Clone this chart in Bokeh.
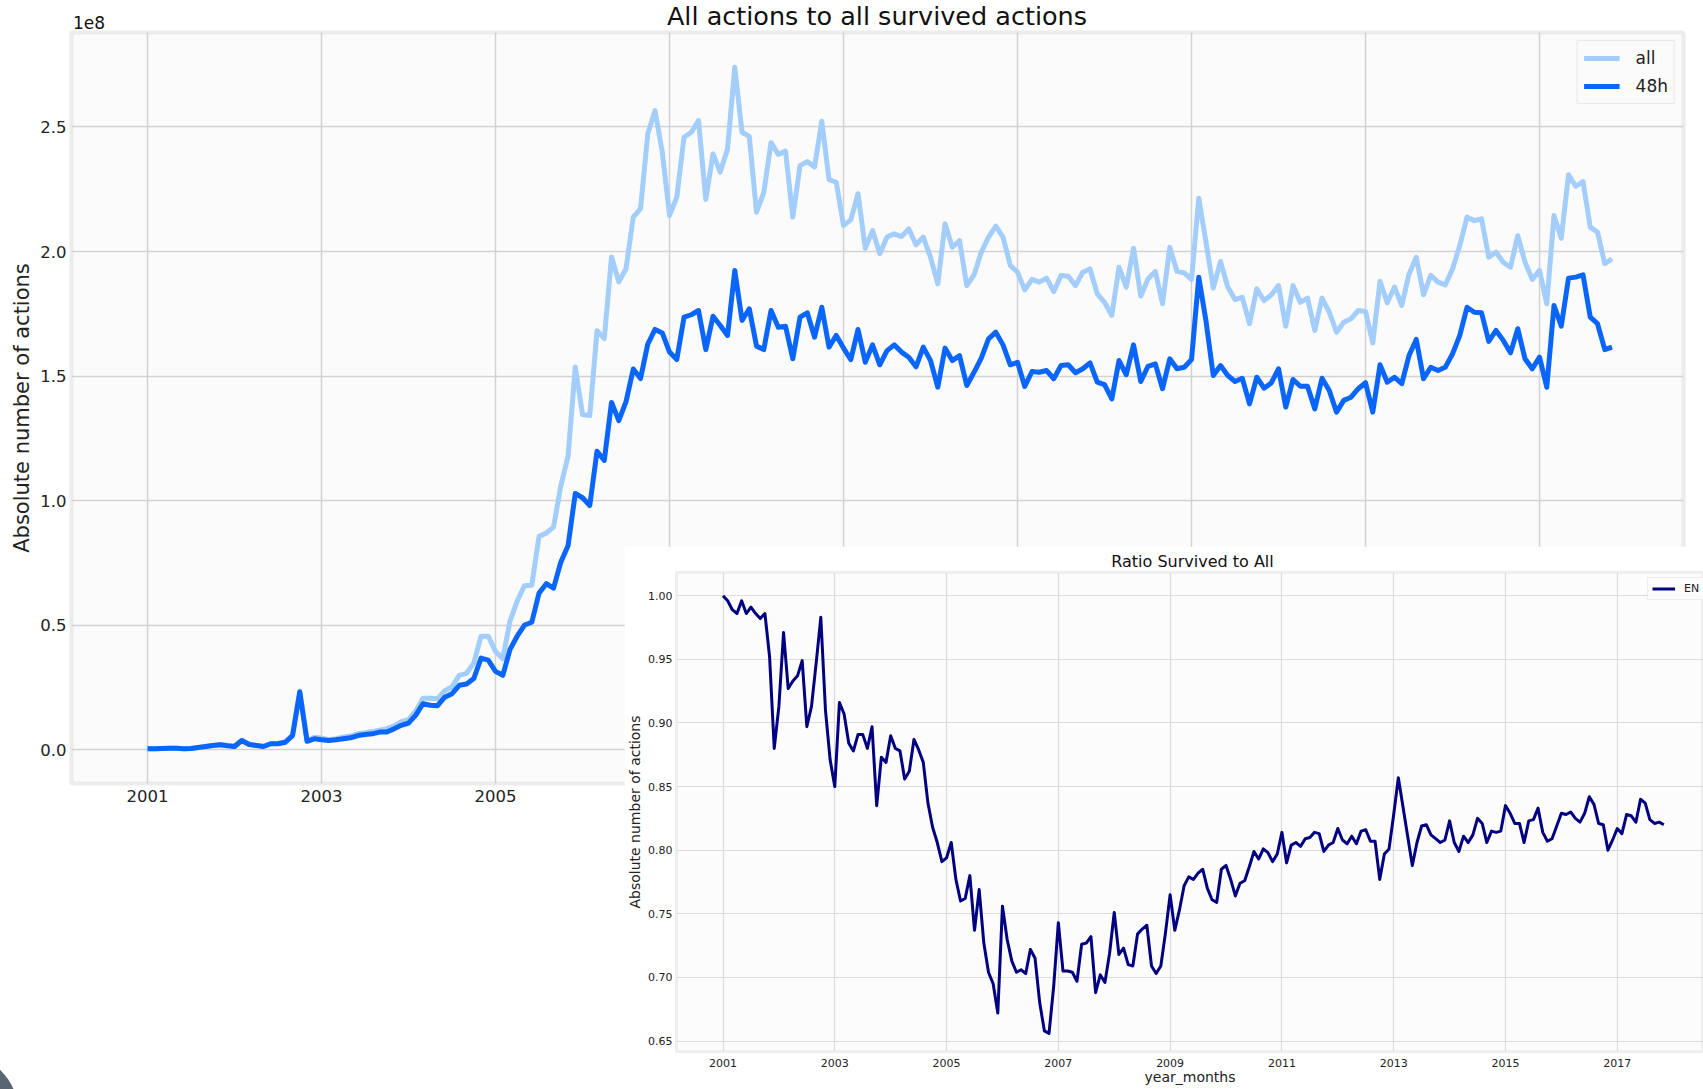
from bokeh.plotting import figure
from bokeh.models import (FixedTicker, NumeralTickFormatter, Legend,
                          LegendItem, Range1d, GridBox, Div)
from bokeh.embed import file_html
from bokeh.resources import INLINE

FONT = "DejaVu Sans"

# monthly periods, Jan 2001 .. Nov 2017 (decimal years)
n_months = 203
year_months = [2001 + i / 12 for i in range(n_months)]

# absolute number of actions, in units of 1e8
all_actions = [
    0.003, 0.003, 0.004, 0.005, 0.005, 0.003, 0.004, 0.008, 0.012, 0.016,
    0.020, 0.017, 0.013, 0.037, 0.022, 0.017, 0.013, 0.024, 0.025, 0.030,
    0.058, 0.235, 0.036, 0.049, 0.046, 0.039, 0.043, 0.049, 0.054, 0.063,
    0.067, 0.072, 0.078, 0.084, 0.095, 0.112, 0.120, 0.155, 0.206, 0.206,
    0.204, 0.236, 0.252, 0.298, 0.306, 0.347, 0.455, 0.455, 0.394, 0.365,
    0.517, 0.597, 0.658, 0.660, 0.856, 0.869, 0.893, 1.058, 1.178, 1.536,
    1.345, 1.341, 1.682, 1.650, 1.978, 1.878, 1.931, 2.138, 2.172, 2.473,
    2.566, 2.399, 2.145, 2.218, 2.459, 2.479, 2.526, 2.209, 2.392, 2.319,
    2.412, 2.740, 2.479, 2.462, 2.158, 2.236, 2.437, 2.390, 2.403, 2.138,
    2.345, 2.361, 2.339, 2.523, 2.289, 2.278, 2.104, 2.127, 2.232, 2.013,
    2.084, 1.991, 2.058, 2.071, 2.060, 2.091, 2.027, 2.058, 1.977, 1.870,
    2.111, 2.017, 2.044, 1.863, 1.906, 1.997, 2.058, 2.102, 2.058, 1.944,
    1.917, 1.846, 1.888, 1.877, 1.893, 1.839, 1.904, 1.901, 1.863, 1.917,
    1.930, 1.830, 1.796, 1.743, 1.937, 1.857, 2.013, 1.821, 1.890, 1.920,
    1.790, 2.017, 1.920, 1.914, 1.888, 2.214, 2.037, 1.853, 1.960, 1.857,
    1.807, 1.816, 1.710, 1.850, 1.803, 1.825, 1.863, 1.700, 1.863, 1.796,
    1.813, 1.683, 1.813, 1.756, 1.676, 1.716, 1.730, 1.763, 1.759, 1.633,
    1.880, 1.794, 1.857, 1.783, 1.910, 1.977, 1.826, 1.904, 1.877, 1.866,
    1.930, 2.024, 2.138, 2.124, 2.131, 1.977, 1.997, 1.957, 1.937, 2.064,
    1.957, 1.888, 1.924, 1.790, 2.145, 2.053, 2.308, 2.262, 2.281, 2.098,
    2.078, 1.951, 1.971,
]

survived_48h = [
    0.003, 0.003, 0.004, 0.005, 0.005, 0.003, 0.004, 0.008, 0.012, 0.016,
    0.019, 0.015, 0.012, 0.036, 0.020, 0.016, 0.012, 0.023, 0.023, 0.029,
    0.056, 0.231, 0.033, 0.043, 0.039, 0.036, 0.039, 0.043, 0.047, 0.056,
    0.060, 0.063, 0.070, 0.070, 0.083, 0.097, 0.106, 0.138, 0.184, 0.178,
    0.176, 0.210, 0.224, 0.258, 0.263, 0.285, 0.367, 0.359, 0.314, 0.298,
    0.402, 0.456, 0.500, 0.511, 0.628, 0.666, 0.648, 0.752, 0.818, 1.028,
    1.011, 0.980, 1.198, 1.161, 1.394, 1.321, 1.397, 1.528, 1.490, 1.628,
    1.687, 1.673, 1.596, 1.566, 1.736, 1.746, 1.763, 1.606, 1.740, 1.703,
    1.663, 1.924, 1.723, 1.770, 1.620, 1.606, 1.763, 1.696, 1.700, 1.569,
    1.736, 1.754, 1.656, 1.776, 1.616, 1.663, 1.612, 1.566, 1.687, 1.555,
    1.625, 1.545, 1.602, 1.625, 1.596, 1.575, 1.537, 1.616, 1.562, 1.455,
    1.612, 1.562, 1.582, 1.462, 1.515, 1.572, 1.649, 1.676, 1.625, 1.545,
    1.555, 1.458, 1.518, 1.515, 1.522, 1.489, 1.542, 1.545, 1.513, 1.529,
    1.553, 1.475, 1.465, 1.408, 1.562, 1.505, 1.625, 1.478, 1.539, 1.549,
    1.449, 1.569, 1.529, 1.535, 1.566, 1.897, 1.720, 1.502, 1.542, 1.502,
    1.478, 1.491, 1.388, 1.495, 1.451, 1.472, 1.529, 1.375, 1.486, 1.459,
    1.459, 1.368, 1.491, 1.442, 1.355, 1.402, 1.415, 1.449, 1.473, 1.355,
    1.545, 1.475, 1.495, 1.469, 1.582, 1.647, 1.489, 1.535, 1.522, 1.535,
    1.589, 1.663, 1.776, 1.756, 1.754, 1.639, 1.683, 1.643, 1.593, 1.690,
    1.569, 1.529, 1.576, 1.455, 1.783, 1.700, 1.893, 1.897, 1.906, 1.736,
    1.710, 1.606, 1.616,
]

# ratio survived (48h) to all, EN
ratio_en = [
    1.000, 0.996, 0.989, 0.986, 0.996, 0.986, 0.991, 0.986, 0.982, 0.986,
    0.952, 0.880, 0.913, 0.971, 0.927, 0.933, 0.937, 0.949, 0.897, 0.913,
    0.947, 0.983, 0.910, 0.871, 0.850, 0.916, 0.907, 0.884, 0.878, 0.891,
    0.891, 0.880, 0.897, 0.835, 0.873, 0.869, 0.890, 0.880, 0.878, 0.856,
    0.862, 0.887, 0.879, 0.869, 0.837, 0.818, 0.806, 0.791, 0.794, 0.806,
    0.777, 0.760, 0.762, 0.780, 0.737, 0.769, 0.727, 0.704, 0.695, 0.672,
    0.756, 0.730, 0.713, 0.704, 0.706, 0.703, 0.722, 0.715, 0.680, 0.658,
    0.656, 0.693, 0.743, 0.705, 0.705, 0.704, 0.697, 0.726, 0.727, 0.732,
    0.688, 0.702, 0.696, 0.719, 0.751, 0.718, 0.723, 0.710, 0.709, 0.734,
    0.738, 0.741, 0.709, 0.703, 0.709, 0.735, 0.765, 0.737, 0.753, 0.772,
    0.779, 0.777, 0.782, 0.785, 0.770, 0.761, 0.759, 0.785, 0.788, 0.777,
    0.764, 0.774, 0.776, 0.787, 0.799, 0.793, 0.801, 0.798, 0.791, 0.797,
    0.814, 0.790, 0.804, 0.806, 0.803, 0.809, 0.810, 0.814, 0.813, 0.799,
    0.804, 0.806, 0.817, 0.808, 0.805, 0.811, 0.805, 0.815, 0.816, 0.807,
    0.807, 0.777, 0.797, 0.801, 0.828, 0.857, 0.834, 0.811, 0.788, 0.806,
    0.819, 0.820, 0.812, 0.809, 0.806, 0.808, 0.823, 0.806, 0.799, 0.811,
    0.806, 0.812, 0.825, 0.821, 0.806, 0.815, 0.814, 0.815, 0.835, 0.829,
    0.821, 0.821, 0.806, 0.823, 0.824, 0.833, 0.814, 0.807, 0.809, 0.819,
    0.829, 0.828, 0.830, 0.825, 0.822, 0.829, 0.842, 0.836, 0.821, 0.820,
    0.800, 0.808, 0.817, 0.813, 0.828, 0.827, 0.822, 0.840, 0.837, 0.824,
    0.821, 0.822, 0.820,
]

year_ticks = [2001, 2003, 2005, 2007, 2009, 2011, 2013, 2015, 2017]
main_y_ticks = [0.0, 0.5, 1.0, 1.5, 2.0, 2.5]
ratio_y_ticks = [0.65, 0.70, 0.75, 0.80, 0.85, 0.90, 0.95, 1.00]

TEXT = "#222222"
GRID = "#d2d2d2"


def style_axes(fig, tick_size, label_size):
    for ax in fig.axis:
        ax.axis_line_color = None
        ax.major_tick_line_color = None
        ax.minor_tick_line_color = None
        ax.major_tick_out = 0
        ax.major_tick_in = 0
        ax.minor_tick_out = 0
        ax.minor_tick_in = 0
        ax.major_label_text_font = FONT
        ax.major_label_text_font_size = tick_size
        ax.major_label_text_color = TEXT
        ax.axis_label_text_font = FONT
        ax.axis_label_text_font_size = label_size
        ax.axis_label_text_font_style = "normal"
        ax.axis_label_text_color = TEXT


def text_div(text, left, top, width, height, size, align="left"):
    return Div(text=text, width=width, height=height, margin=(top, 0, 0, left),
               styles={"font-family": FONT, "font-size": size,
                       "line-height": f"{height}px", "color": "#111111",
                       "text-align": align, "white-space": "nowrap"})


# ---------------- main chart ----------------
p = figure(width=1703, height=820, output_backend="svg", toolbar_location=None,
           x_range=Range1d(2000.126, 2018.655), y_range=Range1d(-0.1365, 2.8795),
           min_border_left=71, min_border_right=20, min_border_top=32,
           min_border_bottom=37)
p.title = None
p.frame_align = False
p.background_fill_color = "#fbfbfb"
p.border_fill_color = "white"
p.outline_line_color = "#ececec"
p.outline_line_width = 4

r_all = p.line(year_months, all_actions, line_color="#a3cdfb", line_width=5,
               line_join="round")
r_48 = p.line(year_months, survived_48h, line_color="#0a66fa", line_width=5,
              line_join="round")

p.xaxis.ticker = FixedTicker(ticks=year_ticks)
p.yaxis.ticker = FixedTicker(ticks=main_y_ticks)
p.yaxis.formatter = NumeralTickFormatter(format="0.0")
p.xgrid.grid_line_color = GRID
p.ygrid.grid_line_color = GRID
p.xgrid.grid_line_width = 1.5
p.ygrid.grid_line_width = 1.5
p.yaxis.axis_label = "Absolute number of actions"
style_axes(p, "16.5px", "21px")
p.yaxis.major_label_standoff = 5
p.yaxis.axis_label_standoff = 3
p.xaxis.major_label_standoff = 6
p.xaxis.axis_label_standoff = 0

legend = Legend(items=[LegendItem(label="all", renderers=[r_all]),
                       LegendItem(label="48h", renderers=[r_48])],
                location="top_right", margin=8, padding=6, spacing=6,
                glyph_width=36, glyph_height=22, label_height=22,
                label_standoff=16, label_text_font=FONT,
                label_text_font_size="17px", label_text_color=TEXT,
                border_line_color="#d8d8d8", background_fill_color="#fbfbfb",
                background_fill_alpha=0.9)
p.add_layout(legend)

main_title = text_div("All actions to all survived actions", 71, 1, 1612, 30,
                      "25.5px", align="center")
offset_text = text_div("1e8", 73, 13, 40, 20, "17px")

# ---------------- inset: ratio ----------------
p2 = figure(width=1079, height=543, output_backend="svg", toolbar_location=None,
            x_range=Range1d(2000.168, 2018.543), y_range=Range1d(0.64175, 1.01824),
            min_border_left=52, min_border_right=0, min_border_top=26,
            min_border_bottom=38)
p2.title = None
p2.frame_align = False
p2.margin = (546, 0, 0, 624)
p2.background_fill_color = "#fcfcfc"
p2.border_fill_color = "white"
p2.outline_line_color = "#efefef"
p2.outline_line_width = 3

r_en = p2.line(year_months, ratio_en, line_color="#000080", line_width=3,
               line_join="round")
p2.xaxis.ticker = FixedTicker(ticks=year_ticks)
p2.yaxis.ticker = FixedTicker(ticks=ratio_y_ticks)
p2.yaxis.formatter = NumeralTickFormatter(format="0.00")
p2.xgrid.grid_line_color = "#dcdcdc"
p2.ygrid.grid_line_color = "#dcdcdc"
p2.xgrid.grid_line_width = 1.2
p2.ygrid.grid_line_width = 1.2
p2.xaxis.axis_label = "year_months"
p2.yaxis.axis_label = "Absolute number of actions"
style_axes(p2, "11px", "14px")
p2.yaxis.major_label_standoff = 4
p2.yaxis.axis_label_standoff = 2
p2.xaxis.major_label_standoff = 7
p2.xaxis.axis_label_standoff = -1

# legend pinned near the frame's top-right corner (runs past the right edge)
legend2 = Legend(items=[LegendItem(label="EN", renderers=[r_en])],
                 location=(971, 451), padding=4, glyph_width=23,
                 glyph_height=13, label_height=13, label_standoff=9,
                 label_text_font=FONT, label_text_font_size="11px",
                 label_text_color=TEXT, border_line_color="#dddddd",
                 background_fill_color="#fcfcfc", background_fill_alpha=0.9)
p2.add_layout(legend2)

inset_title = text_div("Ratio Survived to All", 682, 551, 1021, 21, "16px",
                       align="center")

# small dark round badge visible in the bottom-left corner of the picture
corner_badge = Div(
    text='<svg width="20" height="20" style="display:block">'
         '<circle cx="-38" cy="42" r="56" fill="#5a6572"/></svg>',
    width=20, height=20, margin=(1069, 0, 0, 0))

# all parts share one grid cell; the inset is drawn over the main chart
layout = GridBox(children=[(p, 0, 0), (main_title, 0, 0), (offset_text, 0, 0),
                           (p2, 0, 0), (inset_title, 0, 0), (corner_badge, 0, 0)],
                 width=1703, height=1089)

with open("out.html", "w") as f:
    f.write(file_html(layout, INLINE))
